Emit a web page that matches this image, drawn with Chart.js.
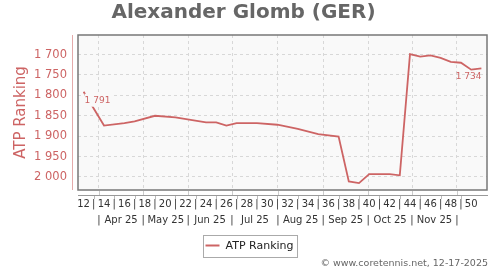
<!DOCTYPE html>
<html>
<head>
<meta charset="utf-8">
<script src="https://cdn.jsdelivr.net/npm/chart.js@4.4.1/dist/chart.umd.min.js"></script>
<style>
  html, body { margin: 0; padding: 0; background: #fff; }
</style>
</head>
<body>
<canvas id="rankChart" width="500" height="270"></canvas>
<script>
// semaine (2025) -> classement ATP
const weeks = [12, 14, 16, 17, 19, 21, 24, 25, 26, 27, 29, 31, 33, 35, 37, 38, 39, 40, 42, 43, 44, 45, 46, 47, 48, 49, 50, 51];
const ranks = [1791, 1874, 1868, 1864, 1850, 1854, 1866, 1866, 1874, 1868, 1868, 1872, 1882, 1895, 1901, 2011, 2015, 1993, 1993, 1996, 1699, 1705, 1702, 1708, 1718, 1720, 1737, 1734];

const weekLabels = [12, 14, 16, 18, 20, 22, 24, 26, 28, 30, 32, 34, 36, 38, 40, 42, 44, 46, 48, 50];
const monthEdges = [13.5, 17.85, 22.25, 26.55, 31.05, 35.5, 39.9, 44.2, 48.6];
const monthLabels = ['Apr 25', 'May 25', 'Jun 25', 'Jul 25', 'Aug 25', 'Sep 25', 'Oct 25', 'Nov 25'];
const yTicks = [1700, 1750, 1800, 1850, 1900, 1950, 2000];

const playerName = 'Alexander Glomb (GER)';
const seriesName = 'ATP Ranking';
const footerText = '\u00a9 www.coretennis.net, 12-17-2025';

const red = '#cd6464';
const plotBg = '#f9f9f9';

Chart.defaults.font.family = "'DejaVu Sans', sans-serif";

function fmt(v) {
    return String(v).replace(/\B(?=(\d{3})+$)/g, ' ');
}

// ticks semaines : numero pair + separateur "|" entre deux
const weekTicks = [];
weekLabels.forEach((w, i) => {
    weekTicks.push({value: w, label: String(w)});
    if (i < weekLabels.length - 1) weekTicks.push({value: (w + weekLabels[i + 1]) / 2, label: '|'});
});

// ticks mois : "|" aux bords, nom au milieu
const monthTicks = [];
monthEdges.forEach((e, i) => {
    monthTicks.push({value: e, label: '|', edge: true});
    if (i < monthLabels.length) monthTicks.push({value: (e + monthEdges[i + 1]) / 2, label: monthLabels[i], edge: false});
});

const decor = {
    id: 'decor',
    beforeDraw(chart) {
        const {ctx, chartArea: a} = chart;
        ctx.save();
        ctx.fillStyle = '#fff';
        ctx.fillRect(0, 0, chart.width, chart.height);
        ctx.fillStyle = plotBg;
        ctx.fillRect(a.left, a.top, a.right - a.left, a.bottom - a.top);
        ctx.restore();
    },
    afterDatasetsDraw(chart) {
        const {ctx} = chart;
        const pts = chart.getDatasetMeta(0).data;
        const first = pts[0], last = pts[pts.length - 1];
        ctx.save();
        ctx.font = "9px 'DejaVu Sans'";
        ctx.textBaseline = 'top';
        // premier point
        let t = fmt(ranks[0]);
        let w = ctx.measureText(t).width;
        ctx.fillStyle = plotBg;
        ctx.fillRect(first.x + 1, first.y + 2, w + 2, 13);
        ctx.fillStyle = red;
        ctx.textAlign = 'left';
        ctx.fillText(t, first.x + 1, first.y + 4.5);
        // dernier point
        t = fmt(ranks[ranks.length - 1]);
        ctx.textAlign = 'right';
        ctx.fillText(t, last.x, last.y + 4);
        ctx.restore();
    },
    afterDraw(chart) {
        const {ctx, chartArea: a} = chart;
        const sx = chart.scales.x;
        const axisY = a.bottom + 5;
        ctx.save();
        // cadre
        ctx.strokeStyle = '#777';
        ctx.lineWidth = 1.5;
        ctx.strokeRect(a.left, a.top, a.right - a.left, a.bottom - a.top);
        // axe y decale
        ctx.lineWidth = 1;
        ctx.strokeStyle = 'rgba(205,100,100,0.55)';
        ctx.beginPath();
        ctx.moveTo(a.left - 5.5, a.top);
        ctx.lineTo(a.left - 5.5, a.bottom);
        ctx.stroke();
        // axe x decale
        ctx.strokeStyle = '#999';
        ctx.beginPath();
        ctx.moveTo(a.left, axisY + 0.5);
        ctx.lineTo(a.right + 1, axisY + 0.5);
        ctx.stroke();
        ctx.strokeStyle = '#bbb';
        weekTicks.filter(tk => tk.label === '|').forEach(tk => {
            const px = Math.round(sx.getPixelForValue(tk.value)) + 0.5;
            ctx.beginPath();
            ctx.moveTo(px, axisY + 1);
            ctx.lineTo(px, axisY + 4);
            ctx.stroke();
        });
        ctx.strokeStyle = '#ccc';
        monthEdges.forEach(e => {
            const px = Math.round(sx.getPixelForValue(e)) + 0.5;
            ctx.beginPath();
            ctx.moveTo(px, a.bottom + 1);
            ctx.lineTo(px, axisY);
            ctx.stroke();
        });
        // legende
        ctx.font = "11px 'DejaVu Sans'";
        const tw = ctx.measureText(seriesName).width;
        const bw = 2 + 14 + 6 + tw + 4;
        const bx = Math.round(chart.width / 2 - bw / 2) + 0.5;
        const by = a.bottom + 45.5;
        ctx.fillStyle = '#fff';
        ctx.fillRect(bx, by, bw, 22);
        ctx.strokeStyle = '#aaa';
        ctx.strokeRect(bx, by, bw, 22);
        ctx.strokeStyle = red;
        ctx.lineWidth = 2;
        ctx.beginPath();
        ctx.moveTo(bx + 2, by + 10);
        ctx.lineTo(bx + 16, by + 10);
        ctx.stroke();
        ctx.fillStyle = '#222';
        ctx.textBaseline = 'middle';
        ctx.textAlign = 'left';
        ctx.fillText(seriesName, bx + 22, by + 11);
        // pied
        ctx.font = "9.5px 'DejaVu Sans'";
        ctx.fillStyle = '#666';
        ctx.textAlign = 'right';
        ctx.fillText(footerText, chart.width - 12, chart.height - 6);
        ctx.restore();
    }
};

const ctx = document.getElementById('rankChart').getContext('2d');

new Chart(ctx, {
    type: 'line',
    data: {
        datasets: [{
            label: seriesName,
            data: weeks.map((w, i) => ({x: w, y: ranks[i]})),
            borderColor: red,
            backgroundColor: red,
            borderWidth: 1.8,
            pointRadius: 0,
            tension: 0,
            xAxisID: 'x',
            yAxisID: 'y'
        }]
    },
    options: {
        responsive: false,
        animation: false,
        events: [],
        layout: {padding: {left: 0, right: 13, top: 0, bottom: 42}},
        plugins: {
            legend: {display: false},
            tooltip: {enabled: false},
            title: {
                display: true,
                text: playerName,
                color: '#666',
                font: {size: 20, weight: 'bold'},
                padding: {top: 1, bottom: 10}
            }
        },
        scales: {
            x: {
                type: 'linear',
                position: 'bottom',
                weight: 0,
                min: 11.45,
                max: 51.55,
                afterBuildTicks: s => { s.ticks = weekTicks.map(t => ({value: t.value})); },
                afterFit: s => { s.height = 20; },
                grid: {display: false, drawTicks: false},
                border: {display: false},
                ticks: {
                    autoSkip: false,
                    maxRotation: 0,
                    padding: 8,
                    color: '#333',
                    font: {size: 10},
                    callback: (v, i) => weekTicks[i].label
                }
            },
            xm: {
                type: 'linear',
                position: 'bottom',
                weight: 1,
                min: 11.45,
                max: 51.55,
                afterBuildTicks: s => { s.ticks = monthTicks.map(t => ({value: t.value})); },
                afterFit: s => { s.height = 18; },
                grid: {
                    drawTicks: false,
                    color: c => (monthTicks[c.index] && monthTicks[c.index].edge) ? '#d8d8d8' : 'rgba(0,0,0,0)',
                    lineWidth: 1
                },
                border: {display: false, dash: [3, 3]},
                ticks: {
                    autoSkip: false,
                    maxRotation: 0,
                    padding: 4,
                    color: '#333',
                    font: {size: 10},
                    callback: (v, i) => monthTicks[i].label
                }
            },
            y: {
                type: 'linear',
                reverse: true,
                min: 1652,
                max: 2032,
                afterBuildTicks: s => { s.ticks = yTicks.map(v => ({value: v})); },
                afterFit: s => { s.width = 78; },
                grid: {drawTicks: false, color: '#d8d8d8', lineWidth: 1},
                border: {display: false, dash: [3, 3]},
                ticks: {
                    padding: 11,
                    color: red,
                    font: {size: 11.5},
                    callback: v => fmt(v)
                },
                title: {
                    display: true,
                    text: seriesName,
                    color: red,
                    font: {size: 15},
                    padding: {top: 12, bottom: 0}
                }
            }
        }
    },
    plugins: [decor]
});
</script>
</body>
</html>
